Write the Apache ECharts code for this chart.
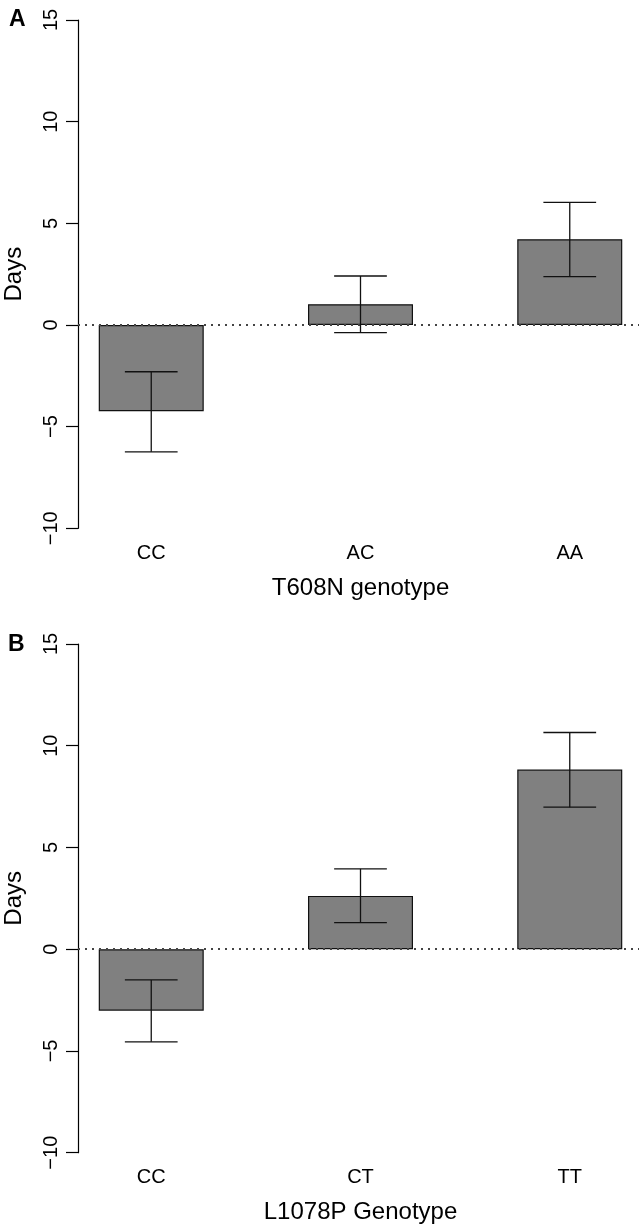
<!DOCTYPE html>
<html>
<head>
<meta charset="utf-8">
<script src="https://cdn.jsdelivr.net/npm/echarts@6/dist/echarts.min.js"></script>
<style>
html,body{margin:0;padding:0;background:#fff;}
#chart{width:639px;height:1225px;}
</style>
</head>
<body>
<div id="chart"></div>
<script>
// Panel A: T608N genotype
const catsA = ['CC', 'AC', 'AA'];
const meanA = [-4.24, 1.02, 4.22];
const lowA = [-6.24, -0.38, 2.38];
const highA = [-2.30, 2.41, 6.03];
const xTitleA = 'T608N genotype';

// Panel B: L1078P Genotype
const catsB = ['CC', 'CT', 'TT'];
const meanB = [-3.02, 2.62, 8.83];
const lowB = [-4.55, 1.31, 6.98];
const highB = [-1.51, 3.95, 10.65];
const xTitleB = 'L1078P Genotype';

const yTitle = 'Days';
const panelLabels = ['A', 'B'];
const yMin = -10, yMax = 15, yStep = 5;

const FONT = '"Liberation Sans", Arial, Helvetica, sans-serif';

const chart = echarts.init(document.getElementById('chart'), null, {renderer: 'canvas'});

function fmtY(v) { return String(v).replace('-', '\u2212'); }

function xAxisFor(gi, cats, title) {
  return {
    gridIndex: gi, type: 'value', min: -0.35, max: 2.35,
    position: 'bottom',
    splitLine: {show: false},
    axisLine: {show: false, onZero: false},
    axisTick: {show: false},
    axisLabel: {
      customValues: cats.map((c, i) => i),
      formatter: v => cats[Math.round(v)],
      fontSize: 20, color: '#000', fontFamily: FONT, margin: 15
    },
    name: title, nameLocation: 'middle', nameGap: 48,
    nameTextStyle: {fontSize: 24, color: '#000', fontFamily: FONT}
  };
}
function yAxisFor(gi) {
  return {
    gridIndex: gi, type: 'value', min: yMin, max: yMax, interval: yStep,
    splitLine: {show: false},
    axisLine: {show: true, onZero: false, lineStyle: {color: '#000', width: 1.2}},
    axisTick: {show: true, length: 12, lineStyle: {color: '#000', width: 1.2}},
    axisLabel: {rotate: 90, fontSize: 20, color: '#000', fontFamily: FONT, margin: 17, formatter: fmtY},
    name: yTitle, nameLocation: 'middle', nameRotate: 90, nameGap: 52,
    nameTextStyle: {fontSize: 24, color: '#000', fontFamily: FONT}
  };
}
function barSeries(gi, means) {
  return {
    type: 'bar', xAxisIndex: gi, yAxisIndex: gi,
    data: means.map((v, i) => [i, v]),
    barWidth: 105,
    itemStyle: {color: '#808080', borderColor: '#111', borderWidth: 1.2},
    markLine: {
      silent: true, symbol: 'none', label: {show: false},
      lineStyle: {color: '#444', type: [2, 5], width: 2},
      data: [{yAxis: 0}]
    },
    z: 2
  };
}
function errSeries(gi, lows, highs) {
  return {
    type: 'custom', xAxisIndex: gi, yAxisIndex: gi,
    data: lows.map((l, i) => [i, l, highs[i]]),
    encode: {x: 0, y: [1, 2]},
    z: 5,
    renderItem: function (params, api) {
      const x = api.value(0);
      const pLo = api.coord([x, api.value(1)]);
      const pHi = api.coord([x, api.value(2)]);
      const hw = api.size([1, 0])[0] * 0.126;
      const st = {stroke: '#111', lineWidth: 1.3};
      return {
        type: 'group',
        children: [
          {type: 'line', shape: {x1: pLo[0], y1: pLo[1], x2: pHi[0], y2: pHi[1]}, style: st},
          {type: 'line', shape: {x1: pLo[0] - hw, y1: pLo[1], x2: pLo[0] + hw, y2: pLo[1]}, style: st},
          {type: 'line', shape: {x1: pHi[0] - hw, y1: pHi[1], x2: pHi[0] + hw, y2: pHi[1]}, style: st}
        ]
      };
    }
  };
}

const option = {
  animation: false,
  backgroundColor: '#fff',
  textStyle: {fontFamily: FONT},
  title: [
    {text: panelLabels[0], left: 4, top: 3, textStyle: {fontSize: 23, fontWeight: 'bold', color: '#000', fontFamily: FONT}},
    {text: panelLabels[1], left: 3, top: 628, textStyle: {fontSize: 23, fontWeight: 'bold', color: '#000', fontFamily: FONT}}
  ],
  grid: [
    {left: 78, right: -4, top: 20, height: 508.3, outerBoundsMode: 'none', containLabel: false},
    {left: 78, right: -4, top: 644, height: 508.7, outerBoundsMode: 'none', containLabel: false}
  ],
  xAxis: [xAxisFor(0, catsA, xTitleA), xAxisFor(1, catsB, xTitleB)],
  yAxis: [yAxisFor(0), yAxisFor(1)],
  series: [
    barSeries(0, meanA), errSeries(0, lowA, highA),
    barSeries(1, meanB), errSeries(1, lowB, highB)
  ]
};
chart.setOption(option);
</script>
</body>
</html>
